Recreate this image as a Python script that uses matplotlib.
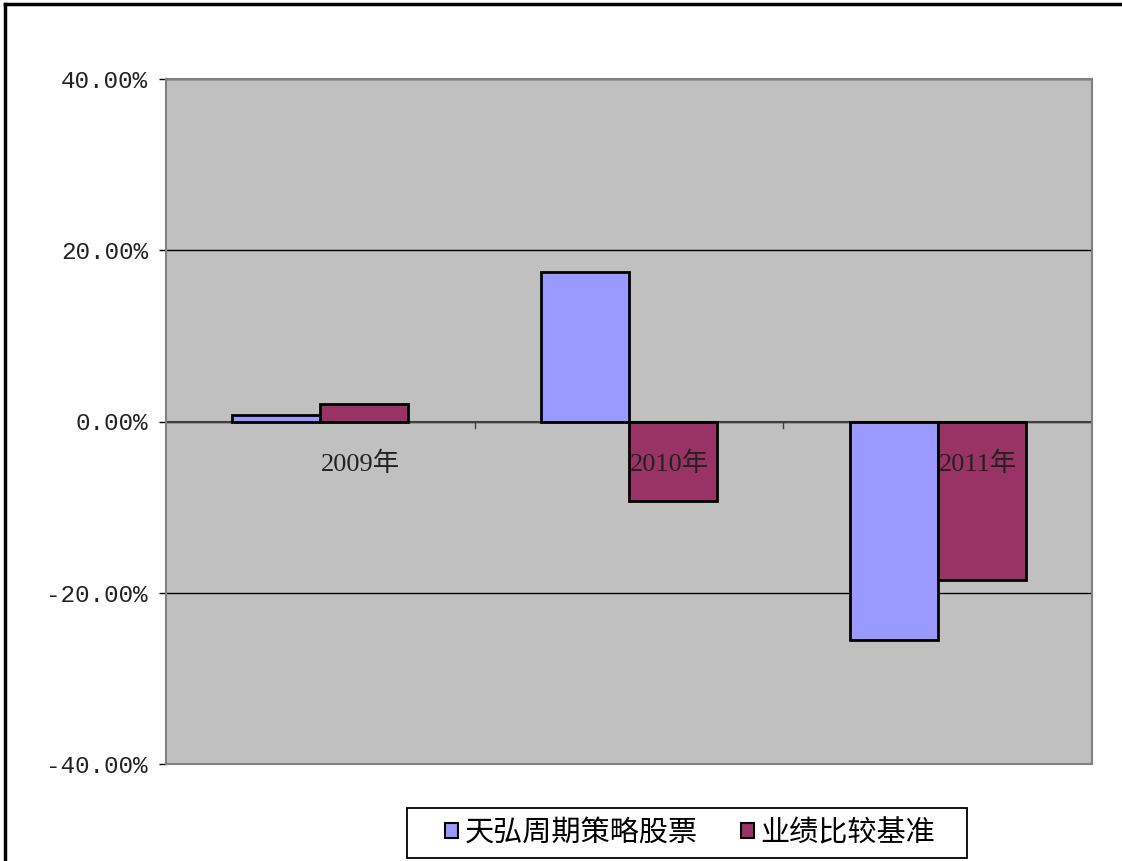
import numpy as np
import matplotlib.pyplot as plt
from matplotlib.patches import Rectangle
from matplotlib.ticker import FuncFormatter

plt.rcParams['font.family'] = ['Noto Sans CJK SC', 'DejaVu Sans']

years = ['2009年', '2010年', '2011年']
fund = [0.74, 17.5, -25.5]
bench = [2.07, -9.25, -18.5]
series_names = ['天弘周期策略股票', '业绩比较基准']
colors = ['#9999FF', '#993366']

fig = plt.figure(figsize=(11.22, 8.61), dpi=100)
ax = fig.add_axes([166 / 1122, 1 - 764 / 861, (1092 - 166) / 1122, (764 - 79) / 861])
ax.set_facecolor('#C0C0C0')

x = np.arange(len(years))
w = 0.285
b1 = ax.bar(x - w / 2, fund, w, color=colors[0], edgecolor='black', linewidth=2, zorder=3)
b2 = ax.bar(x + w / 2, bench, w, color=colors[1], edgecolor='black', linewidth=2, zorder=3)

ax.set_xlim(-0.5, len(years) - 0.5)
ax.set_ylim(-40, 40)
ax.set_yticks([-40, -20, 0, 20, 40])
ax.yaxis.set_major_formatter(FuncFormatter(lambda v, p: f'{v:.2f}%'))
ax.tick_params(axis='y', labelsize=17.5, length=5, width=1, pad=8, labelcolor='#222222')
for lab in ax.get_yticklabels():
    lab.set_family('Liberation Mono')
ax.grid(axis='y', color='black', linewidth=1, zorder=1)
ax.axhline(0, color='#404040', linewidth=1.5, zorder=2)

ax.set_xticks([])
for i in range(1, len(years)):
    ax.plot([i - 0.5, i - 0.5], [0, -0.8], color='#404040', linewidth=1, zorder=2)
for i, yr in enumerate(years):
    ax.text(i + 0.13, -5.0, yr, ha='center', va='center', fontsize=19,
            family=['Liberation Serif', 'Noto Sans CJK SC'], color='#222222', zorder=4)

for s in ax.spines.values():
    s.set_color('#808080')
    s.set_linewidth(1.5)

leg = fig.legend([b1, b2], series_names, loc='center', ncol=2,
                 bbox_to_anchor=(690 / 1122, 28 / 861), fontsize=21,
                 frameon=False, handlelength=0.45, handleheight=0.45,
                 handletextpad=0.2, columnspacing=1.5)
for h in leg.legend_handles:
    h.set_linewidth(1.5)

# legend box and outer chart frame (left and top edges visible)
fig.add_artist(Rectangle((407 / 1122, 3 / 861), 560 / 1122, 50 / 861, fill=False,
                         edgecolor='black', linewidth=1.3, transform=fig.transFigure))
fig.add_artist(plt.Line2D([5 / 1122, 5 / 1122], [0, 1 - 4 / 861], color='black', linewidth=2.5,
                          transform=fig.transFigure))
fig.add_artist(plt.Line2D([5 / 1122, 1], [1 - 4 / 861, 1 - 4 / 861], color='black', linewidth=2.5,
                          transform=fig.transFigure))

fig.savefig('out.png', dpi=100)
